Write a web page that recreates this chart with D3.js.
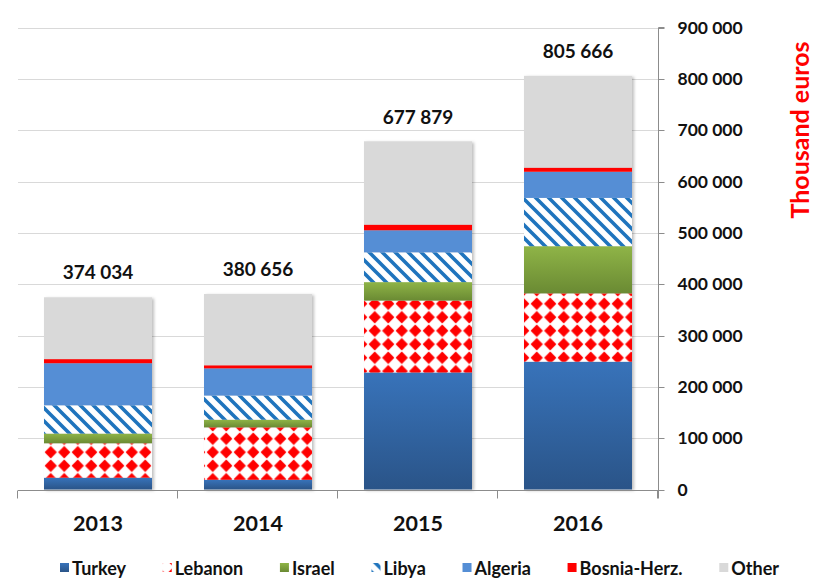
<!DOCTYPE html>
<html>
<head>
<meta charset="utf-8">
<script src="https://cdn.jsdelivr.net/npm/d3@7"></script>
<style>
  body { margin: 0; background: #fff; }
  svg { display: block; font-family: Lato, "Open Sans", sans-serif; font-weight: bold; }
</style>
</head>
<body>
<svg width="813" height="580"></svg>
<script>
const years = ["2013", "2014", "2015", "2016"];
const totals = [374034, 380656, 677879, 805666];
const turkey = [23000, 19000, 228000, 249000];
const lebanon = [67000, 102000, 140000, 133000];
const israel = [19000, 15000, 36000, 92000];
const libya = [55000, 47000, 58000, 94000];
const algeria = [82000, 53000, 43000, 51000];
const bosnia = [8000, 6000, 11000, 8000];
// "Other" is whatever is left of the total
const other = totals.map((t, i) => t - turkey[i] - lebanon[i] - israel[i] - libya[i] - algeria[i] - bosnia[i]);
const yTicks = [0, 100000, 200000, 300000, 400000, 500000, 600000, 700000, 800000, 900000];

const series = [
    {key: "Turkey", values: turkey, fill: "url(#gTurkey)"},
    {key: "Lebanon", values: lebanon, fill: "url(#pLebanon)"},
    {key: "Israel", values: israel, fill: "url(#gIsrael)"},
    {key: "Libya", values: libya, fill: "url(#pLibya)"},
    {key: "Algeria", values: algeria, fill: "#558ed5"},
    {key: "Bosnia-Herz.", values: bosnia, fill: "#ff0000"},
    {key: "Other", values: other, fill: "#d9d9d9"}
];

const svg = d3.select("svg");
const fmt = v => d3.format(",")(v).replace(/,/g, " ");

const x = d3.scaleBand().domain(years).range([18, 658]).paddingInner(0.325).paddingOuter(0.1625);
const y = d3.scaleLinear().domain([0, 900000]).range([489.5, 27.5]);

// defs: gradients and patterns
const defs = svg.append("defs");
function grad(id, top, bottom) {
    const g = defs.append("linearGradient").attr("id", id).attr("x1", 0).attr("y1", 0).attr("x2", 0).attr("y2", 1);
    g.append("stop").attr("offset", "0%").attr("stop-color", top);
    g.append("stop").attr("offset", "100%").attr("stop-color", bottom);
}
grad("gTurkey", "#3873ba", "#2a5488");
grad("gIsrael", "#8fb447", "#6a8a33");

const pl = defs.append("pattern").attr("id", "pLebanon").attr("patternUnits", "userSpaceOnUse")
    .attr("width", 13.5).attr("height", 13.5).attr("x", 44).attr("y", 0);
pl.append("rect").attr("width", 13.5).attr("height", 13.5).attr("fill", "#fff");
pl.append("path").attr("fill", "#ff0000")
    .attr("d", "M6.75,0.6 L12.9,6.75 L6.75,12.9 L0.6,6.75 Z");

const pb = defs.append("pattern").attr("id", "pLibya").attr("patternUnits", "userSpaceOnUse")
    .attr("width", 13).attr("height", 13);
pb.append("rect").attr("width", 13).attr("height", 13).attr("fill", "#fff");
pb.append("path").attr("stroke", "#1f74bd").attr("stroke-width", 3.6)
    .attr("d", "M-3,-3 L16,16 M-3,10 L3,16 M10,-3 L16,3");

const shadow = defs.append("filter").attr("id", "shadow").attr("x", "-10%").attr("y", "-10%").attr("width", "130%").attr("height", "130%");
shadow.append("feDropShadow").attr("dx", 2).attr("dy", 1).attr("stdDeviation", 1.5)
    .attr("flood-color", "#000").attr("flood-opacity", 0.25);

// gridlines
svg.append("g").selectAll("line").data(yTicks.slice(1)).enter().append("line")
    .attr("x1", 18).attr("x2", 658)
    .attr("y1", d => Math.round(y(d)) + 0.5).attr("y2", d => Math.round(y(d)) + 0.5)
    .attr("stroke", "#d9d9d9");

// stacked bars
const table = years.map((yr, i) => {
    const row = {year: yr};
    series.forEach(s => row[s.key] = s.values[i]);
    return row;
});
const stack = d3.stack().keys(series.map(s => s.key))(table);

const barG = svg.append("g");
barG.selectAll("rect.shadow").data(years).enter().append("rect")
    .attr("x", d => x(d)).attr("width", x.bandwidth())
    .attr("y", (d, i) => y(totals[i])).attr("height", (d, i) => y(0) - y(totals[i]))
    .attr("fill", "#d9d9d9").attr("filter", "url(#shadow)");

barG.selectAll("g.layer").data(stack).enter().append("g")
    .attr("fill", (d, i) => series[i].fill)
    .selectAll("rect").data(d => d).enter().append("rect")
    .attr("x", d => x(d.data.year)).attr("width", x.bandwidth())
    .attr("y", d => y(d[1])).attr("height", d => y(d[0]) - y(d[1]));

// total labels
svg.append("g").selectAll("text").data(years).enter().append("text")
    .attr("x", d => x(d) + x.bandwidth() / 2)
    .attr("y", (d, i) => y(totals[i]) - 18)
    .attr("text-anchor", "middle").attr("font-size", 19).attr("fill", "#111")
    .text((d, i) => fmt(totals[i]));

// bottom axis line and category ticks
const base = Math.round(y(0)) + 0.5;
svg.append("line").attr("x1", 18).attr("x2", 658).attr("y1", base).attr("y2", base).attr("stroke", "#8c8c8c");
svg.append("g").selectAll("line").data(years.concat(["end"])).enter().append("line")
    .attr("x1", (d, i) => Math.round(18 + i * x.step()) - 0.5)
    .attr("x2", (d, i) => Math.round(18 + i * x.step()) - 0.5)
    .attr("y1", base).attr("y2", base + 8).attr("stroke", "#8c8c8c");

svg.append("g").selectAll("text").data(years).enter().append("text")
    .attr("x", d => x(d) + x.bandwidth() / 2).attr("y", 531)
    .attr("text-anchor", "middle").attr("font-size", 21.5).attr("fill", "#111")
    .text(d => d);

// right axis
const axis = svg.append("g").attr("transform", "translate(658.5,0)")
    .call(d3.axisRight(y).tickValues(yTicks).tickSize(6).tickPadding(13).tickFormat(fmt));
axis.select(".domain").attr("stroke", "#8c8c8c").attr("d", "M6," + y(900000) + "H0V" + (base + 8));
axis.selectAll(".tick line").attr("stroke", "#8c8c8c");
axis.selectAll(".tick").attr("transform", d => "translate(0," + (Math.round(y(d)) + 0.5) + ")");
axis.selectAll(".tick text").attr("font-size", 17.5).attr("font-family", "Lato, sans-serif")
    .attr("font-weight", "bold").attr("fill", "#111");

svg.append("text").attr("transform", "translate(809,130) rotate(-90)")
    .attr("text-anchor", "middle").attr("font-size", 25).attr("fill", "#ff0000")
    .text("Thousand euros");

// legend, spread between the reference's left and right ends
const legend = svg.append("g");
const items = legend.selectAll("g").data(series).enter().append("g");
items.append("rect").attr("width", 9).attr("height", 9).attr("y", 563)
    .attr("fill", d => d.fill);
items.append("text").attr("x", 12).attr("y", 574.5).attr("font-size", 18).attr("fill", "#111")
    .text(d => d.key);
const widths = items.nodes().map(n => d3.select(n).select("text").node().getComputedTextLength() + 12);
const gap = (779 - 60 - d3.sum(widths)) / (series.length - 1);
let cx = 60;
items.each(function (d, i) {
    d3.select(this).attr("transform", "translate(" + cx + ",0)");
    cx += widths[i] + gap;
});
</script>
</body>
</html>
